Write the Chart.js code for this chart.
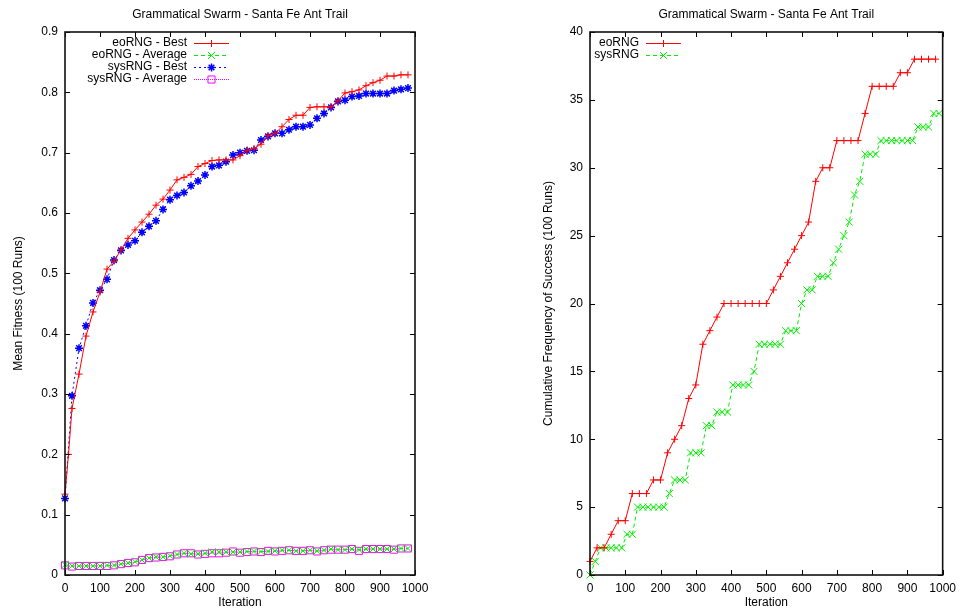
<!DOCTYPE html>
<html>
<head>
<meta charset="utf-8">
<script src="https://cdn.jsdelivr.net/npm/chart.js@4.4.1/dist/chart.umd.min.js"></script>
<style>
  html, body { margin:0; padding:0; background:#fff; }
  #wrap { position:relative; width:962px; height:612px; }
  canvas { position:absolute; top:0; }
  #fitChart { left:0; }
  #succChart { left:481px; }
</style>
</head>
<body>
<div id="wrap">
  <canvas id="fitChart" width="481" height="612"></canvas>
  <canvas id="succChart" width="481" height="612"></canvas>
</div>
<script>
// ---- data ----
const chartTitle = 'Grammatical Swarm - Santa Fe Ant Trail';

// left: mean fitness
const iterEoBest = [0,10,20,40,60,80,100,120,140,160,180,200,220,240,260,280,300,320,340,360,380,400,420,440,460,480,500,520,540,560,580,600,620,640,660,680,700,720,740,760,780,800,820,840,860,880,900,920,940,960,980];
const eoBest = [0.134,0.200,0.276,0.333,0.396,0.436,0.469,0.507,0.520,0.539,0.558,0.572,0.585,0.598,0.613,0.623,0.638,0.655,0.659,0.664,0.677,0.682,0.687,0.688,0.688,0.688,0.695,0.704,0.707,0.714,0.728,0.732,0.743,0.755,0.762,0.762,0.775,0.776,0.776,0.776,0.786,0.799,0.801,0.804,0.811,0.816,0.820,0.827,0.827,0.829,0.829];

const iter20 = [0,20,40,60,80,100,120,140,160,180,200,220,240,260,280,300,320,340,360,380,400,420,440,460,480,500,520,540,560,580,600,620,640,660,680,700,720,740,760,780,800,820,840,860,880,900,920,940,960,980];
const eoAvg = [0.017,0.015,0.015,0.015,0.015,0.015,0.016,0.016,0.018,0.020,0.022,0.025,0.028,0.030,0.030,0.032,0.034,0.036,0.035,0.035,0.036,0.038,0.038,0.038,0.038,0.038,0.039,0.039,0.039,0.039,0.040,0.041,0.041,0.040,0.040,0.041,0.040,0.041,0.043,0.042,0.042,0.043,0.042,0.043,0.043,0.043,0.043,0.043,0.044,0.044];
const sysBest = [0.127,0.297,0.376,0.413,0.451,0.472,0.490,0.522,0.538,0.547,0.554,0.568,0.578,0.587,0.606,0.622,0.629,0.634,0.645,0.653,0.663,0.677,0.679,0.685,0.696,0.700,0.703,0.704,0.721,0.727,0.732,0.732,0.738,0.743,0.743,0.746,0.757,0.765,0.775,0.785,0.787,0.793,0.794,0.798,0.798,0.798,0.798,0.803,0.805,0.807];
const sysAvg = [0.016,0.014,0.015,0.015,0.015,0.015,0.015,0.016,0.018,0.020,0.021,0.025,0.028,0.029,0.030,0.031,0.034,0.036,0.036,0.034,0.035,0.036,0.036,0.037,0.039,0.037,0.038,0.039,0.038,0.040,0.039,0.040,0.041,0.040,0.040,0.041,0.039,0.041,0.042,0.042,0.042,0.043,0.040,0.043,0.043,0.043,0.043,0.042,0.044,0.044];

// right: cumulative frequency of success
const eoSuccess = [1,2,2,3,4,4,6,6,6,7,7,9,10,11,13,14,17,18,19,20,20,20,20,20,20,20,21,22,23,24,25,26,29,30,30,32,32,32,32,34,36,36,36,36,37,37,38,38,38,38];
const iter15 = [0,15,30,45,60,75,90,105,120,135,150,165,180,195,210,225,240,255,270,285,300,315,330,345,360,375,390,405,420,435,450,465,480,495,510,525,540,555,570,585,600,615,630,645,660,675,690,705,720,735,750,765,780,795,810,825,840,855,870,885,900,915,930,945,960,975,990];
const sysSuccess = [0,1,2,2,2,2,2,3,3,5,5,5,5,5,5,6,7,7,7,9,9,9,11,11,12,12,12,14,14,14,14,15,17,17,17,17,17,18,18,18,20,21,21,22,22,22,23,24,25,26,28,29,31,31,31,32,32,32,32,32,32,32,33,33,33,34,34];

// ---- helpers ----
Chart.defaults.font.family = '"Liberation Sans", Arial, Helvetica, sans-serif';
Chart.defaults.font.size = 12;
Chart.defaults.color = '#000';

const FONT = '12px "Liberation Sans", Arial, Helvetica, sans-serif';
function pts(xs, ys){ return xs.map((x,i)=>({ x, y: ys[i] })); }
function fmt(v){ return String(Number(v.toFixed(2))); }

function series(label, xs, ys, color, dash, style, radius, bw){
  return {
    label, data: pts(xs, ys),
    borderColor: color, borderWidth: 1, borderDash: dash,
    pointStyle: style, pointRadius: radius, pointBorderWidth: bw || 1,
    pointBorderColor: color, pointBackgroundColor: 'rgba(0,0,0,0)',
    tension: 0, fill: false, clip: false
  };
}

// gnuplot-like frame with inward ticks on all four sides
const framePlugin = {
  id: 'gpFrame',
  afterDraw(chart){
    const { ctx, chartArea: a, scales } = chart;
    ctx.save();
    ctx.strokeStyle = '#000';
    ctx.lineWidth = 1;
    const seg = (x1,y1,x2,y2)=>{ ctx.beginPath(); ctx.moveTo(x1,y1); ctx.lineTo(x2,y2); ctx.stroke(); };
    scales.x.ticks.forEach(t=>{
      const px = Math.round(scales.x.getPixelForValue(t.value)) + 0.5;
      seg(px, a.bottom, px, a.bottom - 5);
      seg(px, a.top, px, a.top + 5);
    });
    scales.y.ticks.forEach(t=>{
      const py = Math.round(scales.y.getPixelForValue(t.value)) + 0.5;
      seg(a.left, py, a.left + 5, py);
      seg(a.right, py, a.right - 5, py);
    });
    ctx.lineWidth = 1.6;
    ctx.strokeStyle = '#111';
    ctx.strokeRect(a.left, a.top, a.right - a.left, a.bottom - a.top);
    ctx.restore();
  }
};

// key: right-aligned text followed by a line sample, inside top-left
const keyPlugin = {
  id: 'gpKey',
  afterDatasetsDraw(chart, args, opts){
    const { ctx, chartArea: a } = chart;
    const tx = a.left + opts.textRight;
    ctx.save();
    ctx.font = FONT;
    ctx.textAlign = 'right';
    ctx.textBaseline = 'middle';
    chart.data.datasets.forEach((ds, i)=>{
      const y = a.top + opts.top + i * 12;
      ctx.fillStyle = '#000';
      ctx.fillText(ds.label, tx, y);
      const x0 = tx + 7, x1 = x0 + 35;
      ctx.strokeStyle = ds.borderColor;
      ctx.lineWidth = ds.borderWidth;
      ctx.setLineDash(ds.borderDash || []);
      ctx.beginPath(); ctx.moveTo(x0, y + 0.5); ctx.lineTo(x1, y + 0.5); ctx.stroke();
      ctx.setLineDash([]);
      ctx.fillStyle = 'rgba(0,0,0,0)';
      ctx.lineWidth = ds.pointBorderWidth;
      Chart.helpers.drawPoint(ctx, { pointStyle: ds.pointStyle, radius: ds.pointRadius, borderWidth: ds.pointBorderWidth, rotation: 0 }, (x0 + x1) / 2, y + 0.5);
    });
    ctx.restore();
  }
};

function axes(yMax, yStep, yTitle, yWidth, yTitlePad){
  return {
    x: {
      type: 'linear', min: 0, max: 1000,
      grid: { display: false, drawTicks: false }, border: { display: false },
      ticks: { stepSize: 100, padding: 6, maxRotation: 0, autoSkip: false, callback: fmt },
      title: { display: true, text: 'Iteration', padding: { top: 0, bottom: 2 } },
      afterFit(s){ s.height = 37; }
    },
    y: {
      type: 'linear', min: 0, max: yMax,
      grid: { display: false, drawTicks: false }, border: { display: false },
      ticks: { stepSize: yStep, padding: 7, autoSkip: false, callback: fmt },
      title: { display: true, text: yTitle, padding: { top: yTitlePad, bottom: 0 } },
      afterFit(s){ s.width = yWidth; }
    }
  };
}

function baseOptions(rightPad, key, scales){
  return {
    responsive: false, animation: false,
    layout: { padding: { left: 0, right: rightPad, top: 0, bottom: 0 } },
    plugins: {
      legend: { display: false }, tooltip: { enabled: false },
      title: { display: true, text: chartTitle, fullSize: false, font: { size: 12, weight: 'normal' }, padding: { top: 7, bottom: 10.6 } },
      gpKey: key
    },
    scales
  };
}

new Chart(document.getElementById('fitChart'), {
  type: 'line',
  data: { datasets: [
    series('eoRNG - Best', iterEoBest, eoBest, '#ff0000', [], 'cross', 3.5),
    series('eoRNG - Average', iter20, eoAvg, '#00ee00', [4,3], 'crossRot', 5),
    series('sysRNG - Best', iter20, sysBest, '#0000ff', [2,3], 'star', 4, 1.5),
    series('sysRNG - Average', iter20, sysAvg, '#ff00ff', [1,1], 'rect', 5)
  ]},
  options: baseOptions(66, { textRight: 122, top: 11 }, axes(0.9, 0.1, 'Mean Fitness (100 Runs)', 65, 11)),
  plugins: [framePlugin, keyPlugin]
});

new Chart(document.getElementById('succChart'), {
  type: 'line',
  data: { datasets: [
    series('eoRNG', iter20, eoSuccess, '#ff0000', [], 'cross', 3.5),
    series('sysRNG', iter15, sysSuccess, '#00ee00', [4,3], 'crossRot', 5)
  ]},
  options: baseOptions(17, { textRight: 49, top: 11 }, axes(40, 5, 'Cumulative Frequency of Success (100 Runs)', 109, 60)),
  plugins: [framePlugin, keyPlugin]
});
</script>
</body>
</html>
